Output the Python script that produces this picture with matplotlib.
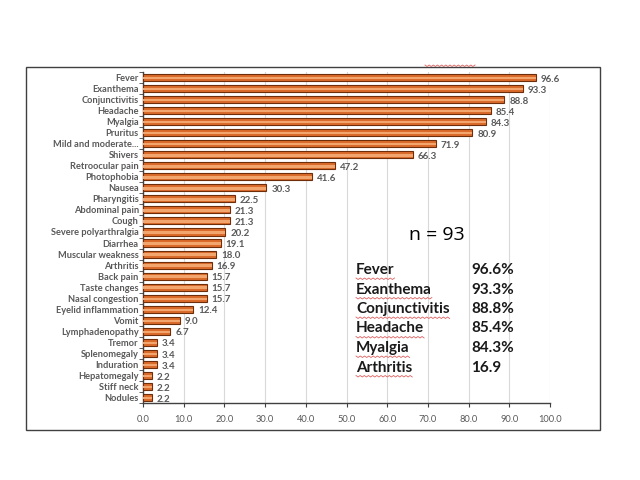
import numpy as np
import matplotlib
matplotlib.use('Agg')
import matplotlib.pyplot as plt
from matplotlib.patches import Rectangle

plt.rcParams['font.family'] = ['Lato', 'DejaVu Sans']

# ---- data ----
symptoms = ['Fever', 'Exanthema', 'Conjunctivitis', 'Headache', 'Myalgia', 'Pruritus',
            'Mild and moderate...', 'Shivers', 'Retroocular pain', 'Photophobia', 'Nausea',
            'Pharyngitis', 'Abdominal pain', 'Cough', 'Severe polyarthralgia', 'Diarrhea',
            'Muscular weakness', 'Arthritis', 'Back pain', 'Taste changes', 'Nasal congestion',
            'Eyelid inflammation', 'Vomit', 'Lymphadenopathy', 'Tremor', 'Splenomegaly',
            'Induration', 'Hepatomegaly', 'Stiff neck', 'Nodules']
pct = [96.6, 93.3, 88.8, 85.4, 84.3, 80.9, 71.9, 66.3, 47.2, 41.6, 30.3,
       22.5, 21.3, 21.3, 20.2, 19.1, 18.0, 16.9, 15.7, 15.7, 15.7,
       12.4, 9.0, 6.7, 3.4, 3.4, 3.4, 2.2, 2.2, 2.2]
xticks = [0, 10, 20, 30, 40, 50, 60, 70, 80, 90, 100]

box_names = ['Fever', 'Exanthema', 'Conjunctivitis', 'Headache', 'Myalgia', 'Arthritis']
box_vals = ['96.6%', '93.3%', '88.8%', '85.4%', '84.3%', '16.9']
n_label = 'n = 93'

GRAY = '#595959'

fig = plt.figure(figsize=(6.4, 4.8), dpi=100)
ax = fig.add_axes([143/640, 1 - 403/480, (550 - 143)/640, (403 - 72)/480])

y = np.arange(len(symptoms))
ax.barh(y, pct, height=0.64, color='#DB6B2A', edgecolor='#6E2E0C', linewidth=0.8, zorder=3)
ax.barh(y + 0.05, pct, height=0.22, color='#F3A56E', linewidth=0, zorder=4)

for yi, v in zip(y, pct):
    ax.text(v + 1.2, yi + 0.15, f'{v:.1f}', va='center', ha='left',
            fontsize=7, fontweight='bold', color=GRAY)

ax.set_ylim(len(symptoms) - 0.5, -0.5)
ax.set_xlim(0, 100)
ax.set_yticks(y)
ax.set_yticklabels(symptoms, fontsize=6.7, fontweight='bold', color=GRAY)
ax.set_yticks(np.arange(-0.5, len(symptoms), 1), minor=True)
ax.tick_params(axis='y', which='major', length=0, pad=3)
ax.tick_params(axis='y', which='minor', length=3, color='#404040')
ax.set_xticks(xticks)
ax.set_xticklabels([f'{t:.1f}' for t in xticks], fontsize=6.7, color=GRAY)
ax.tick_params(axis='x', length=3, color='#404040', pad=6)
ax.grid(axis='x', color='#D9D9D9', linewidth=0.8, zorder=0)
for s in ['top', 'right']:
    ax.spines[s].set_visible(False)
for s in ['left', 'bottom']:
    ax.spines[s].set_color('#404040')
    ax.spines[s].set_linewidth(1.0)

# outer frame
fig.patches.append(Rectangle((26/640, 1 - 430/480), (600 - 26)/640, (430 - 67)/480,
                             transform=fig.transFigure, fill=False,
                             edgecolor='#404040', linewidth=1.0))

# text box
fig.text(437/640, 1 - 235/480, n_label, fontsize=14, ha='center', va='center',
         family=['Open Sans', 'DejaVu Sans'])


def squiggle(x0, x1, yb):
    xs = np.linspace(x0, x1, max(int((x1 - x0) / 2), 4))
    ys = yb + np.where(np.arange(len(xs)) % 2 == 0, 0, 1.5)
    fig.add_artist(plt.Line2D(xs / 640, 1 - ys / 480, transform=fig.transFigure,
                              color='#E06060', linewidth=0.6))


fig.canvas.draw()
rend = fig.canvas.get_renderer()
for i, (nm, vl) in enumerate(zip(box_names, box_vals)):
    yy = 270 + i * 19.5
    t = fig.text(356/640, 1 - yy/480, nm, fontsize=11, fontweight='bold',
                 ha='left', va='center', color='#1a1a1a')
    fig.text(471/640, 1 - yy/480, vl, fontsize=11, fontweight='bold',
             ha='left', va='center', color='#1a1a1a')
    bb = t.get_window_extent(rend)
    squiggle(bb.x0, bb.x1, 480 - bb.y0 + 1)

squiggle(425, 475, 65)

fig.savefig('out.png', dpi=100)
